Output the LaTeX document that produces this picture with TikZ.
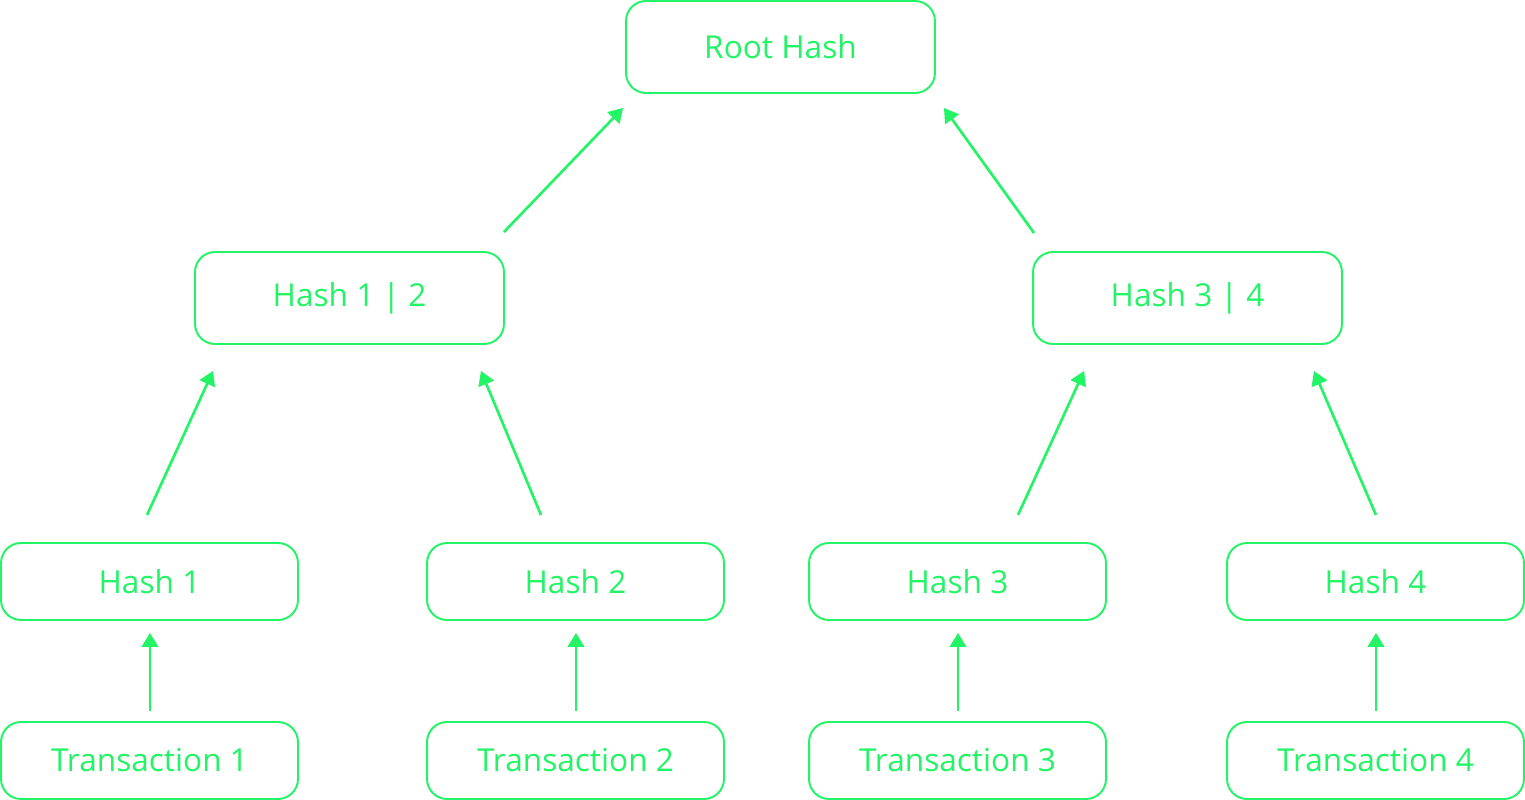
\documentclass[tikz,border=0pt]{standalone}
\usepackage{fontspec}
\setmainfont{Open Sans}
\usetikzlibrary{calc,positioning,arrows.meta}
\definecolor{merkle}{RGB}{34,244,102}

\begin{document}
\begin{tikzpicture}[x=0.02cm,y=-0.02cm,
  block/.style={
    draw=merkle,
    line width=1.1pt,
    rounded corners=0.4cm,
    rectangle,
    text=merkle,
    align=center,
    minimum width=5.94cm,
    minimum height=1.54cm,
    font=\fontsize{18}{21}\selectfont},
  upper/.style={block, minimum width=6.18cm, minimum height=1.84cm},
  arr/.style={draw=merkle, line width=1.5pt, -{Triangle[length=0.28cm,width=0.33cm]}},
  ]
  \useasboundingbox (0,0) rectangle (1525,800);

  \node (Root) [upper] at(780.5,47) {Root Hash};

  \node (H12) [upper] at(349.5,298) {Hash 1 | 2};
  \node (H34) [upper] at(1187.5,298) {Hash 3 | 4};

  \node (H1) [block] at(149.5,581.5) {Hash 1};
  \node (H2) [block] at(575.5,581.5) {Hash 2};
  \node (H3) [block] at(957.5,581.5) {Hash 3};
  \node (H4) [block] at(1375.5,581.5) {Hash 4};

  \node (Tx1) [block] at(149.5,760.5) {Transaction 1};
  \node (Tx2) [block] at(575.5,760.5) {Transaction 2};
  \node (Tx3) [block] at(957.5,760.5) {Transaction 3};
  \node (Tx4) [block] at(1375.5,760.5) {Transaction 4};

  % transactions up to their hashes
  \draw[arr] ($(Tx1.north)+(0.5,-10)$) -- ($(H1.south)+(0.5,12)$);
  \draw[arr] ($(Tx2.north)+(0.5,-10)$) -- ($(H2.south)+(0.5,12)$);
  \draw[arr] ($(Tx3.north)+(0.5,-10)$) -- ($(H3.south)+(0.5,12)$);
  \draw[arr] ($(Tx4.north)+(0.5,-10)$) -- ($(H4.south)+(0.5,12)$);

  % leaf hashes up to the pairs
  \draw[arr] ($(H1.north)+(-2.5,-27)$) -- ($(H12.south west)+(19,26)$);
  \draw[arr] ($(H2.north)+(-34.5,-27)$) -- ($(H12.south east)+(-24,26)$);
  \draw[arr] ($(H3.north)+(60.5,-27)$) -- ($(H34.south west)+(52,26)$);
  \draw[arr] ($(H4.north)+(0.5,-27)$) -- ($(H34.south east)+(-29,26)$);

  % pairs up to the root
  \draw[arr] ($(H12.north east)+(-1,-19)$) -- ($(Root.south west)+(-2,14)$);
  \draw[arr] ($(H34.north west)+(2,-18)$) -- ($(Root.south east)+(8,14)$);

\end{tikzpicture}
\end{document}
